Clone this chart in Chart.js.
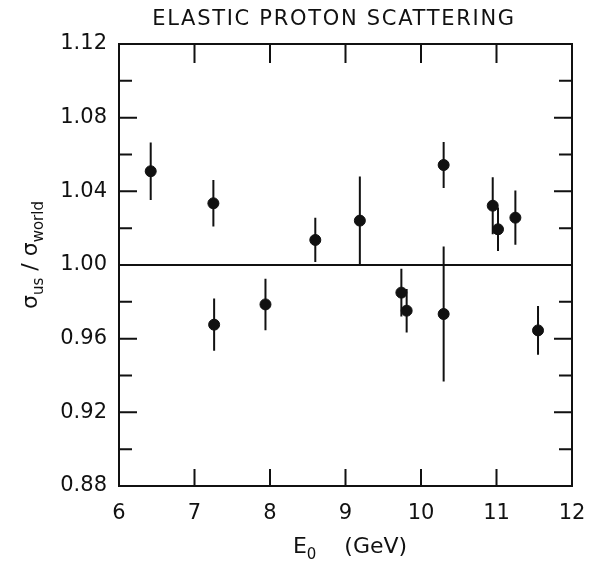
<!DOCTYPE html>
<html>
<head>
<meta charset="utf-8">
<script src="https://cdn.jsdelivr.net/npm/chart.js@4.4.1/dist/chart.umd.min.js"></script>
<style>
  body { margin: 0; background: #fff; }
  canvas { display: block; }
</style>
</head>
<body>
<canvas id="myChart" width="590" height="561"></canvas>
<script>
// beam energy E0 (GeV) and ratio sigma_us / sigma_world
var energy = [6.42, 7.25, 7.26, 7.94, 8.60, 9.19, 9.74, 9.81, 10.30, 10.30, 10.95, 11.02, 11.25, 11.55];
var ratio  = [1.0509, 1.0335, 0.9676, 0.9786, 1.0136, 1.0241, 0.9850, 0.9752, 1.0543, 0.9734, 1.0322, 1.0194, 1.0257, 0.9645];
var ratioErr = [0.0156, 0.0126, 0.0142, 0.0140, 0.0120, 0.0240, 0.0130, 0.0118, 0.0125, 0.0367, 0.0155, 0.0118, 0.0147, 0.0132];

// reference line at ratio = 1
var refX = [6, 12];
var refY = 1.00;

var xMin = 6, xMax = 12, xStep = 1;
var yMin = 0.88, yMax = 1.12, yStep = 0.02;

var titleText = 'ELASTIC PROTON SCATTERING';
var ink = '#111';
var fontName = "'DejaVu Sans', sans-serif";

var points = energy.map(function(e, i) { return { x: e, y: ratio[i] }; });
var refLine = refX.map(function(x) { return { x: x, y: refY }; });

// draw text pieces, some of them as subscripts
function drawPieces(ctx, pieces, x, y) {
    var w = 0;
    pieces.forEach(function(p) {
        ctx.font = (p.sub ? '15px ' : '22px ') + fontName;
        w += ctx.measureText(p.t).width;
    });
    var cx = x - w / 2;
    pieces.forEach(function(p) {
        ctx.font = (p.sub ? '15px ' : '22px ') + fontName;
        ctx.fillText(p.t, cx, y + (p.sub ? 6 : 0));
        cx += ctx.measureText(p.t).width;
    });
}

var framePlugin = {
    id: 'frame',
    beforeDatasetsDraw: function(chart) {
        var ctx = chart.ctx;
        var a = chart.chartArea;
        var xs = chart.scales.x, ys = chart.scales.y;
        ctx.save();
        ctx.strokeStyle = ink;
        ctx.lineWidth = 2;
        ctx.strokeRect(a.left, a.top, a.right - a.left, a.bottom - a.top);

        // ticks pointing inward on all four sides
        ctx.beginPath();
        xs.ticks.forEach(function(t) {
            if (t.value <= xMin || t.value >= xMax) return;
            var px = xs.getPixelForValue(t.value);
            ctx.moveTo(px, a.bottom); ctx.lineTo(px, a.bottom - 17);
            ctx.moveTo(px, a.top); ctx.lineTo(px, a.top + 19);
        });
        ys.ticks.forEach(function(t) {
            if (t.value <= yMin + 1e-6 || t.value >= yMax - 1e-6) return;
            var py = ys.getPixelForValue(t.value);
            var len = t.label !== '' ? 18 : 13;
            ctx.moveTo(a.left, py); ctx.lineTo(a.left + len, py);
            ctx.moveTo(a.right, py); ctx.lineTo(a.right - len, py);
        });
        ctx.stroke();

        // error bars
        ctx.lineWidth = 2;
        ctx.beginPath();
        energy.forEach(function(e, i) {
            var px = xs.getPixelForValue(e);
            ctx.moveTo(px, ys.getPixelForValue(ratio[i] + ratioErr[i]));
            ctx.lineTo(px, ys.getPixelForValue(ratio[i] - ratioErr[i]));
        });
        ctx.stroke();
        ctx.restore();
    },
    afterDraw: function(chart) {
        var ctx = chart.ctx;
        ctx.save();
        ctx.fillStyle = ink;
        ctx.textBaseline = 'alphabetic';
        ctx.textAlign = 'left';

        // title
        ctx.font = '21px ' + fontName;
        ctx.letterSpacing = '1.7px';
        var tw = ctx.measureText(titleText).width;
        ctx.fillText(titleText, 334 - tw / 2, 25);
        ctx.letterSpacing = '0px';

        // x axis title
        drawPieces(ctx, [{ t: 'E' }, { t: '0', sub: true }, { t: '    (GeV)' }], 350, 553);

        // y axis title, rotated
        ctx.translate(37, 255);
        ctx.rotate(-Math.PI / 2);
        drawPieces(ctx, [{ t: 'σ' }, { t: 'us', sub: true }, { t: ' / ' }, { t: 'σ' }, { t: 'world', sub: true }], 0, 0);
        ctx.restore();
    }
};

var config = {
    type: 'scatter',
    data: {
        datasets: [{
            label: 'ratio',
            data: points,
            backgroundColor: ink,
            borderColor: ink,
            pointRadius: 5.5,
            pointHoverRadius: 5.5
        }, {
            label: 'unity',
            type: 'line',
            data: refLine,
            borderColor: ink,
            borderWidth: 2,
            pointRadius: 0,
            fill: false
        }]
    },
    plugins: [framePlugin],
    options: {
        responsive: false,
        animation: false,
        layout: { padding: { top: 44, right: 18, left: 0, bottom: 0 } },
        plugins: {
            legend: { display: false },
            title: { display: false },
            tooltip: { enabled: false }
        },
        scales: {
            x: {
                type: 'linear',
                min: xMin,
                max: xMax,
                grid: { display: false, drawTicks: false },
                border: { display: false },
                ticks: {
                    stepSize: xStep,
                    padding: 15,
                    color: ink,
                    font: { family: fontName, size: 21 },
                    maxRotation: 0
                },
                afterFit: function(scale) {
                    scale.height = 75;
                    scale.paddingLeft = 0;
                    scale.paddingRight = 0;
                }
            },
            y: {
                type: 'linear',
                min: yMin,
                max: yMax,
                grid: { display: false, drawTicks: false },
                border: { display: false },
                ticks: {
                    stepSize: yStep,
                    padding: 12,
                    color: ink,
                    font: { family: fontName, size: 21 },
                    autoSkip: false,
                    callback: function(v) {
                        var n = Math.round(v * 100);
                        return n % 4 === 0 ? (n / 100).toFixed(2) : '';
                    }
                },
                afterFit: function(scale) {
                    scale.width = 119;
                    scale.paddingTop = 0;
                    scale.paddingBottom = 0;
                }
            }
        }
    }
};

new Chart(document.getElementById('myChart').getContext('2d'), config);
</script>
</body>
</html>
